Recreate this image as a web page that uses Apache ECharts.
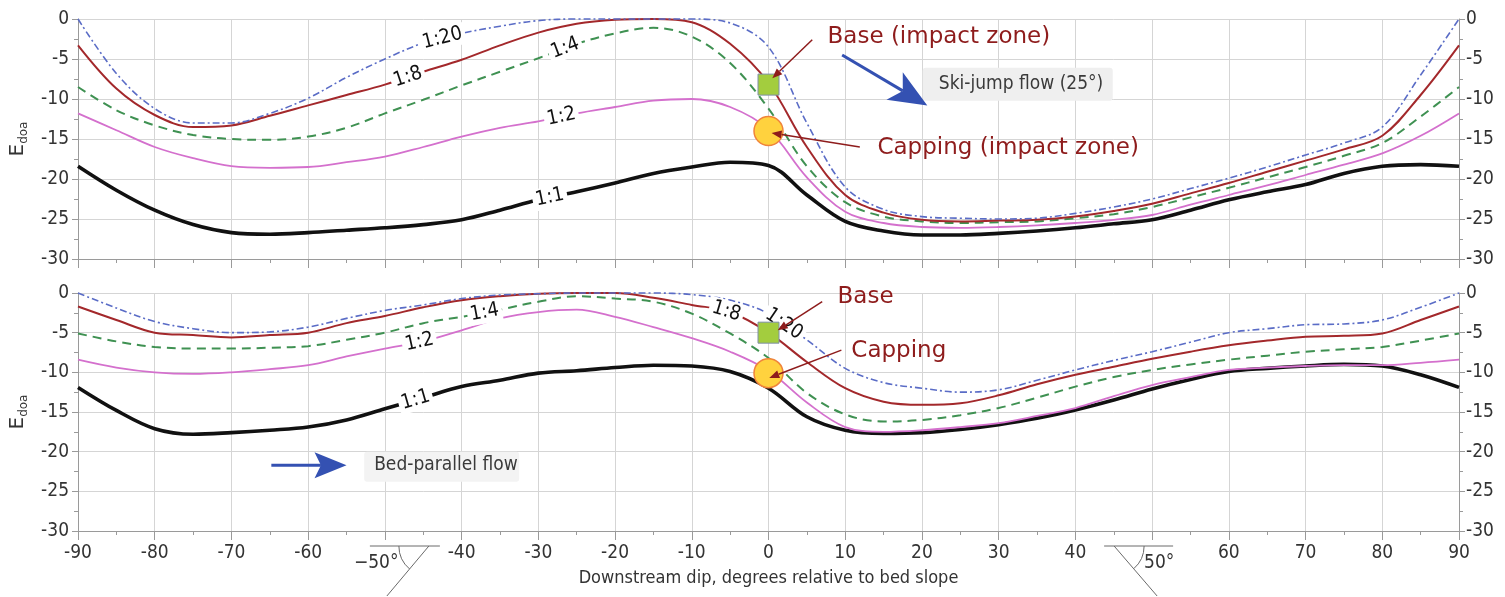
<!DOCTYPE html>
<html>
<head>
<meta charset="utf-8">
<title>Edoa versus downstream dip</title>
<script src="https://cdn.jsdelivr.net/npm/echarts@6.0.0/dist/echarts.min.js"></script>
<style>
html,body{margin:0;padding:0;background:#ffffff;}
#chart{width:1505px;height:597px;}
</style>
</head>
<body>
<div id="chart"></div>
<script>
// Downstream dip, degrees relative to bed slope
const dips = [-90,-85,-80,-75,-70,-65,-60,-55,-50,-45,-40,-35,-30,-25,-20,-15,-10,-5,0,5,10,15,20,25,30,35,40,45,50,55,60,65,70,75,80,85,90];

// Curve names (ratio)
const ratios = ['1:20', '1:8', '1:4', '1:2', '1:1'];

// Ski-jump flow (25°): Edoa per ratio
const skiR20 = [0,-6.8,-11.2,-13.0,-13.0,-11.8,-9.9,-7.3,-5.0,-3.0,-1.8,-0.9,-0.2,0,0,0,0,-0.5,-3.5,-13.0,-21.0,-23.8,-24.7,-24.9,-25.0,-24.9,-24.3,-23.5,-22.5,-21.2,-19.9,-18.5,-17.0,-15.5,-13.5,-7.0,0];
const skiR8  = [-3.3,-8.7,-12.0,-13.5,-13.3,-12.1,-10.8,-9.5,-8.2,-6.6,-5.1,-3.3,-1.7,-0.6,-0.1,0,-0.4,-3.1,-8.0,-16.0,-22.0,-24.2,-25.1,-25.3,-25.2,-25.1,-24.7,-24.0,-23.1,-21.8,-20.5,-19.1,-17.7,-16.3,-14.6,-9.5,-3.3];
const skiR4  = [-8.5,-11.4,-13.3,-14.5,-15.0,-15.1,-14.7,-13.6,-11.8,-10.1,-8.3,-6.6,-4.9,-3.1,-1.8,-1.1,-2.2,-5.5,-11.2,-18.4,-22.9,-24.7,-25.3,-25.5,-25.4,-25.3,-24.9,-24.4,-23.5,-22.3,-21.1,-19.8,-18.5,-17.1,-15.5,-12.2,-8.5];
const skiR2  = [-11.8,-13.9,-16.0,-17.4,-18.4,-18.6,-18.5,-17.9,-17.2,-16.0,-14.7,-13.6,-12.8,-11.8,-11.0,-10.2,-10.0,-11.0,-13.8,-19.8,-24.1,-25.5,-26.0,-26.1,-26.0,-25.8,-25.5,-25.1,-24.5,-23.2,-22.0,-20.8,-19.5,-18.2,-16.8,-14.6,-11.8];
const skiR1  = [-18.4,-21.4,-23.9,-25.7,-26.7,-26.9,-26.7,-26.4,-26.1,-25.7,-25.1,-23.9,-22.6,-21.6,-20.5,-19.3,-18.5,-17.9,-18.3,-22.0,-25.3,-26.5,-27.0,-27.0,-26.8,-26.5,-26.1,-25.6,-25.1,-23.9,-22.6,-21.6,-20.7,-19.3,-18.4,-18.2,-18.4];

// Bed-parallel flow: Edoa per ratio
const bedR20 = [0,-1.9,-3.6,-4.5,-5.0,-4.9,-4.3,-3.2,-2.2,-1.5,-0.7,-0.25,-0.1,0,0,0,-0.2,-0.9,-2.6,-5.9,-9.5,-11.3,-12.0,-12.5,-12.2,-11.0,-9.7,-8.5,-7.4,-6.2,-5.0,-4.5,-4.0,-3.9,-3.4,-1.8,0];
const bedR8  = [-1.7,-3.4,-5.0,-5.3,-5.6,-5.3,-5.0,-3.8,-2.9,-1.8,-0.9,-0.4,-0.1,0,0,-0.6,-1.5,-2.4,-5.0,-8.7,-12.0,-13.7,-14.1,-13.9,-12.9,-11.5,-10.3,-9.3,-8.3,-7.4,-6.6,-6.0,-5.5,-5.4,-5.1,-3.4,-1.7];
const bedR4  = [-5.1,-6.1,-6.8,-7.0,-7.0,-6.9,-6.7,-5.9,-5.0,-3.8,-3.0,-2.1,-1.1,-0.4,-0.7,-1.1,-2.6,-5.1,-8.2,-12.6,-15.3,-16.2,-16.0,-15.4,-14.5,-13.2,-11.8,-10.6,-9.7,-9.0,-8.4,-7.9,-7.4,-7.1,-6.8,-6.0,-5.1];
const bedR2  = [-8.4,-9.4,-10.0,-10.2,-10.0,-9.6,-9.1,-8.0,-7.0,-6.1,-4.7,-3.2,-2.4,-2.1,-3.0,-4.3,-5.7,-7.4,-9.8,-13.8,-16.9,-17.5,-17.3,-16.9,-16.4,-15.5,-14.5,-13.0,-11.6,-10.6,-9.7,-9.4,-9.2,-9.1,-9.1,-8.8,-8.4];
const bedR1  = [-11.9,-14.8,-17.1,-17.8,-17.6,-17.3,-16.9,-16.0,-14.6,-13.2,-11.8,-11.0,-10.1,-9.8,-9.4,-9.1,-9.2,-9.9,-12.0,-15.6,-17.3,-17.7,-17.6,-17.2,-16.6,-15.8,-14.75,-13.5,-12.1,-10.9,-9.9,-9.5,-9.2,-9.0,-9.2,-10.3,-11.9];

// Measured points at the impact zone (panel 0: ski-jump, panel 1: bed-parallel)
const impactDip = 0;
const baseValues = [-8.2, -5.0];
const cappingValues = [-14.0, -10.1];

const panels = [
  [skiR20, skiR8, skiR4, skiR2, skiR1],
  [bedR20, bedR8, bedR4, bedR2, bedR1]
];

// ---- appearance ----
const FONT = 'DejaVu Sans';
const CFONT = '"DejaVu Sans Condensed", "DejaVu Sans", sans-serif';
const AXIS_GREY = '#9a9a9a';
const GRID_GREY = '#d5d5d5';
const TEXT_GREY = '#333333';
const NOTE_RED = '#8e1c1c';
const FLOW_BLUE = '#3451b2';

const lineStyles = {
  '1:20': {color: '#5a6cc6', width: 1.6, type: [7, 3, 2, 3]},
  '1:8':  {color: '#a3282b', width: 2.0, type: 'solid'},
  '1:4':  {color: '#3f9152', width: 2.0, type: [9, 6]},
  '1:2':  {color: '#d470cd', width: 1.8, type: 'solid'},
  '1:1':  {color: '#111111', width: 3.6, type: 'solid'}
};

const ratioLabelStyle = {
  show: true, position: 'inside', fontFamily: CFONT, fontSize: 20, color: '#111111',
  backgroundColor: '#ffffff', padding: [1, 3], opacity: 1
};

// where each ratio name sits along its curve (dip)
const curveLabels = [
  [['1:20', -42.5], ['1:8', -47], ['1:4', -26.5], ['1:2', -27], ['1:1', -28.5]],
  [['1:20', 2], ['1:8', -5.5], ['1:4', -37], ['1:2', -45.5], ['1:1', -46]]
];

function valAt(arr, x) {
  let i = 0;
  while (i < dips.length - 2 && dips[i + 1] < x) i++;
  const t = (x - dips[i]) / (dips[i + 1] - dips[i]);
  return arr[i] + (arr[i + 1] - arr[i]) * t;
}

const grids = [
  {left: 78, right: 46, top: 19, height: 240},
  {left: 78, right: 46, top: 293, height: 238}
];

function makeXAxis(g, withLabels) {
  const ax = {
    type: 'value', gridIndex: g, min: -90, max: 90, interval: 10,
    axisLine: {show: true, onZero: false, lineStyle: {color: AXIS_GREY, width: 1}},
    axisTick: {show: true, length: 9, lineStyle: {color: AXIS_GREY}},
    minorTick: {show: true, splitNumber: 2, length: 4, lineStyle: {color: AXIS_GREY}},
    splitLine: {show: true, lineStyle: {color: GRID_GREY, width: 1}},
    minorSplitLine: {show: false},
    axisLabel: {
      show: withLabels, fontFamily: CFONT, fontSize: 19, color: TEXT_GREY, margin: 13,
      formatter: v => (Math.abs(v) === 50 ? '' : String(v))
    }
  };
  if (withLabels) {
    ax.name = 'Downstream dip, degrees relative to bed slope';
    ax.nameLocation = 'middle';
    ax.nameGap = 38;
    ax.nameTextStyle = {fontFamily: CFONT, fontSize: 18, color: TEXT_GREY};
  }
  return ax;
}

function makeYAxis(g, pos) {
  const ax = {
    type: 'value', gridIndex: g, position: pos, min: -30, max: 0, interval: 5,
    axisLine: {show: true, onZero: false, lineStyle: {color: AXIS_GREY, width: 1}},
    axisTick: {show: true, length: 6, lineStyle: {color: AXIS_GREY}},
    minorTick: {show: true, splitNumber: 2, length: 4, lineStyle: {color: AXIS_GREY}},
    splitLine: {show: pos === 'left', lineStyle: {color: GRID_GREY, width: 1}},
    axisLabel: {fontFamily: CFONT, fontSize: 19, color: TEXT_GREY, margin: pos === 'left' ? 9 : 7}
  };
  if (pos === 'left') {
    ax.name = 'E{sub|doa}';
    ax.nameLocation = 'middle';
    ax.nameRotate = 90;
    ax.nameGap = 46;
    ax.nameTextStyle = {
      fontFamily: FONT, fontSize: 20, color: TEXT_GREY, lineHeight: 24,
      rich: {sub: {fontFamily: FONT, fontSize: 12, color: TEXT_GREY, verticalAlign: 'bottom', lineHeight: 24}}
    };
  }
  return ax;
}

const series = [];
const firstSeriesOfPanel = [];
panels.forEach((curves, g) => {
  firstSeriesOfPanel[g] = series.length;
  // thickest curve first so the finer styles stay visible on top
  for (let k = ratios.length - 1; k >= 0; k--) {
    const name = ratios[k];
    const st = lineStyles[name];
    series.push({
      name: name, type: 'line', xAxisIndex: g, yAxisIndex: 2 * g,
      data: dips.map((d, i) => [d, curves[k][i]]),
      showSymbol: false, smooth: 0.35, clip: false, silent: true, z: 3,
      lineStyle: {color: st.color, width: st.width, type: st.type}
    });
  }
  // inline ratio labels
  series.push({
    id: 'labels' + g, type: 'scatter', xAxisIndex: g, yAxisIndex: 2 * g, silent: true, z: 6,
    symbolSize: 1, itemStyle: {color: 'rgba(0,0,0,0)'},
    data: curveLabels[g].map(([name, at]) => ({
      value: [at, valAt(curves[ratios.indexOf(name)], at)],
      label: Object.assign({}, ratioLabelStyle, {formatter: name, rotate: 0})
    })),
    label: ratioLabelStyle
  });
  // base marker (square) and capping marker (circle)
  series.push({
    type: 'scatter', xAxisIndex: g, yAxisIndex: 2 * g, silent: true, z: 7,
    symbol: 'rect', symbolSize: 21,
    itemStyle: {color: '#a3cd3e', borderColor: '#7f8fa8', borderWidth: 1, opacity: 1},
    data: [[impactDip, baseValues[g]]]
  });
  series.push({
    type: 'scatter', xAxisIndex: g, yAxisIndex: 2 * g, silent: true, z: 7,
    symbol: 'circle', symbolSize: 29,
    itemStyle: {color: '#ffd23e', borderColor: '#f0843a', borderWidth: 1.5, opacity: 1},
    data: [[impactDip, cappingValues[g]]]
  });
});

const chart = echarts.init(document.getElementById('chart'), null, {renderer: 'canvas'});
chart.setOption({
  animation: false,
  backgroundColor: '#ffffff',
  grid: grids.map(g => Object.assign({containLabel: false, outerBoundsMode: 'none'}, g)),
  xAxis: [makeXAxis(0, false), makeXAxis(1, true)],
  yAxis: [makeYAxis(0, 'left'), makeYAxis(0, 'right'), makeYAxis(1, 'left'), makeYAxis(1, 'right')],
  series: series
});

// ---- second pass: things that depend on pixel positions ----
function px(g, x, y) {
  return chart.convertToPixel({seriesIndex: firstSeriesOfPanel[g]}, [x, y]);
}

function slopeAngle(g, arr, x) {
  const a = px(g, x - 1.5, valAt(arr, x - 1.5));
  const b = px(g, x + 1.5, valAt(arr, x + 1.5));
  return Math.atan2(a[1] - b[1], b[0] - a[0]) * 180 / Math.PI;
}

function arrow(p0, p1, color, w, headL, headW, notch) {
  const dx = p1[0] - p0[0], dy = p1[1] - p0[1];
  const L = Math.hypot(dx, dy), ux = dx / L, uy = dy / L, nx = -uy, ny = ux;
  const bx = p1[0] - ux * headL, by = p1[1] - uy * headL;
  const nxp = p1[0] - ux * headL * (1 - notch), nyp = p1[1] - uy * headL * (1 - notch);
  return [
    {type: 'line', z: 50, silent: true,
     shape: {x1: p0[0], y1: p0[1], x2: nxp, y2: nyp},
     style: {stroke: color, lineWidth: w}},
    {type: 'polygon', z: 50, silent: true,
     shape: {points: [[p1[0], p1[1]], [bx + nx * headW / 2, by + ny * headW / 2], [nxp, nyp], [bx - nx * headW / 2, by - ny * headW / 2]]},
     style: {fill: color}}
  ];
}

function text(p, str, size, family, color, extra) {
  return Object.assign({
    type: 'text', z: 52, silent: true, x: p[0], y: p[1],
    style: {text: str, fontSize: size, fontFamily: family, fill: color, align: 'left', verticalAlign: 'middle'}
  }, extra || {});
}

const graphics = [];

// ski-jump panel notes
{
  const g = 0;
  const box = px(g, 20.1, -6.1);
  graphics.push({type: 'rect', z: 40, silent: true, shape: {x: box[0], y: box[1], width: 190, height: 33, r: 3},
                 style: {fill: '#efefef'}});
  graphics.push(text(px(g, 22.2, -8.1), 'Ski-jump flow (25°)', 19, CFONT, '#3a3a3a'));
  graphics.push(...arrow(px(g, 9.6, -4.5), px(g, 20.7, -10.8), FLOW_BLUE, 3, 38, 32, 0.25));
  graphics.push(text(px(g, 7.7, -2.2), 'Base (impact zone)', 23, FONT, NOTE_RED));
  graphics.push(text(px(g, 14.2, -16.1), 'Capping (impact zone)', 23, FONT, NOTE_RED));
  graphics.push(...arrow(px(g, 5.7, -2.6), px(g, 0.5, -7.4), NOTE_RED, 1.5, 10, 8, 0));
  graphics.push(...arrow(px(g, 11.9, -16.0), px(g, 0.4, -14.25), NOTE_RED, 1.5, 10, 8, 0));
}

// bed-parallel panel notes
{
  const g = 1;
  const box = px(g, -52.7, -20.0);
  graphics.push({type: 'rect', z: 40, silent: true, shape: {x: box[0], y: box[1], width: 155, height: 30, r: 3},
                 style: {fill: '#f3f3f3'}});
  graphics.push(text(px(g, -51.4, -21.7), 'Bed-parallel flow', 19, CFONT, '#3a3a3a'));
  graphics.push(...arrow(px(g, -64.8, -21.7), px(g, -55.0, -21.7), FLOW_BLUE, 3, 32, 26, 0.2));
  graphics.push(text(px(g, 9.0, -0.5), 'Base', 23, FONT, NOTE_RED));
  graphics.push(text(px(g, 10.8, -7.3), 'Capping', 23, FONT, NOTE_RED));
  graphics.push(...arrow(px(g, 7.0, -1.1), px(g, 1.2, -4.7), NOTE_RED, 1.5, 10, 8, 0));
  graphics.push(...arrow(px(g, 9.5, -7.2), px(g, 0.1, -10.7), NOTE_RED, 1.5, 10, 8, 0));
}

// dip-angle sketches in place of the -50 and 50 tick labels
{
  const g = 1;
  const [xl, yb] = px(g, -50, -30);
  const [xr] = px(g, 50, -30);
  const top = yb + 15;
  const ink = '#6a6a6a';
  // -50 degrees (dipping upstream)
  graphics.push({type: 'line', silent: true, shape: {x1: xl - 15, y1: top, x2: xl + 55, y2: top}, style: {stroke: ink, lineWidth: 1}});
  graphics.push({type: 'line', silent: true, shape: {x1: xl + 44, y1: top, x2: xl + 2, y2: top + 50}, style: {stroke: ink, lineWidth: 1}});
  graphics.push({type: 'arc', silent: true, shape: {cx: xl + 44, cy: top, r: 30, startAngle: Math.PI * 130 / 180, endAngle: Math.PI, clockwise: true},
                 style: {stroke: ink, lineWidth: 1, fill: 'none'}});
  graphics.push(text([xl - 31, top + 17], '\u221250°', 19, CFONT, TEXT_GREY));
  // +50 degrees (dipping downstream)
  graphics.push({type: 'line', silent: true, shape: {x1: xr - 48, y1: top, x2: xr + 21, y2: top}, style: {stroke: ink, lineWidth: 1}});
  graphics.push({type: 'line', silent: true, shape: {x1: xr - 38, y1: top, x2: xr + 5, y2: top + 50}, style: {stroke: ink, lineWidth: 1}});
  graphics.push({type: 'arc', silent: true, shape: {cx: xr - 38, cy: top, r: 30, startAngle: 0, endAngle: Math.PI * 49 / 180, clockwise: true},
                 style: {stroke: ink, lineWidth: 1, fill: 'none'}});
  graphics.push(text([xr - 8, top + 17], '50°', 19, CFONT, TEXT_GREY));
}

// rotate the ratio labels to follow their curves
const labelUpdates = panels.map((curves, g) => ({
  id: 'labels' + g,
  data: curveLabels[g].map(([name, at]) => {
    const arr = curves[ratios.indexOf(name)];
    return {
      value: [at, valAt(arr, at)],
      label: Object.assign({}, ratioLabelStyle, {formatter: name, rotate: slopeAngle(g, arr, at)})
    };
  })
}));

chart.setOption({series: labelUpdates, graphic: graphics});
</script>
</body>
</html>
